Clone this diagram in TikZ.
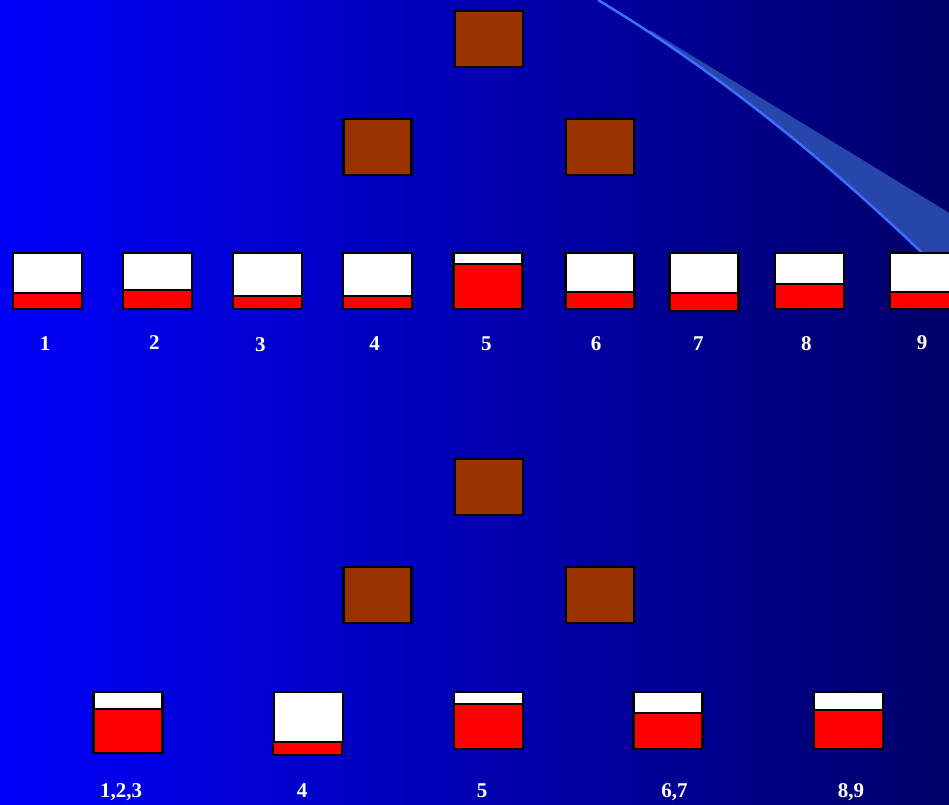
\documentclass[tikz,border=0pt]{standalone}
\usepackage{fontspec}
\setmainfont{Liberation Serif}
\usepackage{xcolor}
\usepackage{tikz}
\usetikzlibrary{positioning}
\definecolor{rust}{RGB}{153,51,0}
\definecolor{sky}{RGB}{60,110,255}
\definecolor{streak}{RGB}{38,70,172}
\tikzset{
    cell/.style={rectangle, draw=black, line width=2.5pt, fill=rust, minimum width=68pt, minimum height=56pt, inner sep=0pt, outer sep=0pt},
    jar/.style={rectangle, draw=black, line width=2.5pt, fill=white, minimum width=69pt, inner sep=0pt, outer sep=0pt},
    water/.style={jar, fill=red},
    num/.style={text=white, anchor=base, inner sep=0pt, font=\bfseries\fontsize{21}{24}\selectfont}
}

\begin{document}
\begin{tikzpicture}[x=1pt, y=-1pt]
    \clip (0,0) rectangle (949,804);
    \shade [left color={rgb,255:red,0;green,0;blue,250}, right color={rgb,255:red,0;green,0;blue,105}] (0,0) rectangle (949,804);

    % swoosh
    \begin{scope}
        \clip (598,0) .. controls (718,72) and (840,170) .. (960,290) -- (1000,290) -- (1000,0) -- cycle;
        \fill [streak] (650,30) -- (1000,244) -- (1000,400) -- (650,400) -- cycle;
    \end{scope}
    \draw [sky, line width=2.5pt] (598,0) .. controls (718,72) and (840,170) .. (960,290);

    % upper tree
    \node (c1) [cell] at (489,39) {};
    \node (c2) [cell] at (377.5,147) {};
    \node (c3) [cell] at (600,147) {};

    \node (t1) [jar, minimum height=40pt, anchor=north] at (47.5,253) {};
    \node (r1) [water, minimum height=16pt, below=0pt of t1] {};
    \node (t2) [jar, minimum height=37pt, anchor=north] at (157.5,253) {};
    \node (r2) [water, minimum height=19pt, below=0pt of t2] {};
    \node (t3) [jar, minimum height=43pt, anchor=north] at (267.5,253) {};
    \node (r3) [water, minimum height=13pt, below=0pt of t3] {};
    \node (t4) [jar, minimum height=43pt, anchor=north] at (377.5,253) {};
    \node (r4) [water, minimum height=13pt, below=0pt of t4] {};
    \node (t5) [jar, minimum height=11pt, anchor=north] at (488,253) {};
    \node (r5) [water, minimum height=45pt, below=0pt of t5] {};
    \node (t6) [jar, minimum height=39pt, anchor=north] at (600,253) {};
    \node (r6) [water, minimum height=17pt, below=0pt of t6] {};
    \node (t7) [jar, minimum height=40pt, anchor=north] at (704,253) {};
    \node (r7) [water, minimum height=18pt, below=0pt of t7] {};
    \node (t8) [jar, minimum height=31pt, anchor=north] at (809.5,253) {};
    \node (r8) [water, minimum height=25pt, below=0pt of t8] {};
    \node (t9) [jar, minimum height=39pt, anchor=north] at (924.5,253) {};
    \node (r9) [water, minimum height=17pt, below=0pt of t9] {};

    \node (n1) [num] at (45,350) {1};
    \node (n2) [num] at (154.3,349) {2};
    \node (n3) [num] at (260.3,351.5) {3};
    \node (n4) [num] at (374.7,350) {4};
    \node (n5) [num] at (486.3,350.5) {5};
    \node (n6) [num] at (596,350.5) {6};
    \node (n7) [num] at (698.3,350.5) {7};
    \node (n8) [num] at (806.3,350.5) {8};
    \node (n9) [num] at (922,349) {9};

    % lower tree
    \node (c4) [cell] at (489,487) {};
    \node (c5) [cell] at (377.5,595) {};
    \node (c6) [cell] at (600,595) {};

    \node (ta) [jar, minimum height=17pt, anchor=north] at (128,692) {};
    \node (ra) [water, minimum height=44pt, below=0pt of ta] {};
    \node (tb) [jar, minimum height=50pt, anchor=north] at (308.5,692) {};
    \node (rb) [water, minimum height=13pt, below=0pt of tb, xshift=-1pt] {};
    \node (tc) [jar, minimum height=12pt, anchor=north] at (488.5,692) {};
    \node (rc) [water, minimum height=45pt, below=0pt of tc] {};
    \node (td) [jar, minimum height=21pt, anchor=north] at (668,692) {};
    \node (rd) [water, minimum height=36pt, below=0pt of td] {};
    \node (te) [jar, minimum height=18pt, anchor=north] at (848.5,692) {};
    \node (re) [water, minimum height=39pt, below=0pt of te] {};

    \node (ma) [num] at (121,797.5) {1,2,3};
    \node (mb) [num] at (302,797.5) {4};
    \node (mc) [num] at (482,797.5) {5};
    \node (md) [num] at (674.5,797.5) {6,7};
    \node (me) [num] at (851,797.5) {8,9};
\end{tikzpicture}
\end{document}
